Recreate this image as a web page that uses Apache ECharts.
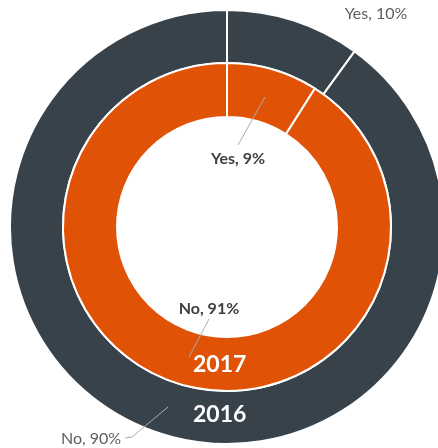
<!DOCTYPE html>
<html>
<head>
<meta charset="utf-8">
<script src="https://cdn.jsdelivr.net/npm/echarts@6/dist/echarts.min.js"></script>
<style>
  html, body { margin: 0; padding: 0; background: #fff; }
  #chart { width: 438px; height: 448px; }
</style>
</head>
<body>
<div id="chart"></div>
<script>
var categories = ['Yes', 'No'];
var values2016 = [10, 90];
var values2017 = [9, 91];
var yearNames = ['2016', '2017'];

// label positions (seriesIndex -> dataIndex)
var labelSpots = [
    [ {x: 376, y: 14}, {x: 91, y: 439} ],
    [ {x: 238, y: 159}, {x: 209, y: 309} ]
];
// leader lines drawn by hand, Excel style
var leaderLines = [
    [[168, 407], [132, 437], [125, 438]],
    [[265, 97], [238, 145]],
    [[209, 319], [189, 357]]
];

var chart = echarts.init(document.getElementById('chart'));

function toData(vals) {
    return categories.map(function (c, i) {
        return { name: c, value: vals[i] };
    });
}

function placeLabel(params) {
    var spot = labelSpots[params.seriesIndex][params.dataIndex];
    return { x: spot.x, y: spot.y, align: 'center', verticalAlign: 'middle' };
}

var graphics = leaderLines.map(function (pts) {
    return {
        type: 'polyline', z: 90, silent: true,
        shape: { points: pts },
        style: { stroke: '#A9ADB1', lineWidth: 1, fill: null }
    };
});
graphics.push(
    { type: 'text', z: 100, left: 193, top: 353, style: { text: yearNames[1], fill: '#fff', font: 'bold 23px Lato, sans-serif' } },
    { type: 'text', z: 100, left: 193, top: 403, style: { text: yearNames[0], fill: '#fff', font: 'bold 23px Lato, sans-serif' } }
);

var option = {
    animation: false,
    graphic: graphics,
    series: [
        {
            name: yearNames[0],
            type: 'pie',
            center: [227, 227],
            radius: [164, 217],
            startAngle: 90,
            clockwise: true,
            avoidLabelOverlap: false,
            itemStyle: { color: '#38424B', borderColor: '#fff', borderWidth: 2 },
            label: {
                formatter: '{b}, {c}%',
                color: '#5F5F5F',
                fontSize: 16,
                fontFamily: 'Lato, sans-serif'
            },
            labelLine: { show: false },
            labelLayout: placeLabel,
            data: toData(values2016)
        },
        {
            name: yearNames[1],
            type: 'pie',
            center: [227, 227],
            radius: [110, 164],
            startAngle: 90,
            clockwise: true,
            avoidLabelOverlap: false,
            itemStyle: { color: '#E05206', borderColor: '#fff', borderWidth: 2 },
            label: {
                formatter: '{b}, {c}%',
                color: '#404040',
                fontSize: 16,
                fontWeight: 'bold',
                fontFamily: 'Lato, sans-serif'
            },
            labelLine: { show: false },
            labelLayout: placeLabel,
            data: toData(values2017)
        }
    ]
};

chart.setOption(option);
</script>
</body>
</html>
